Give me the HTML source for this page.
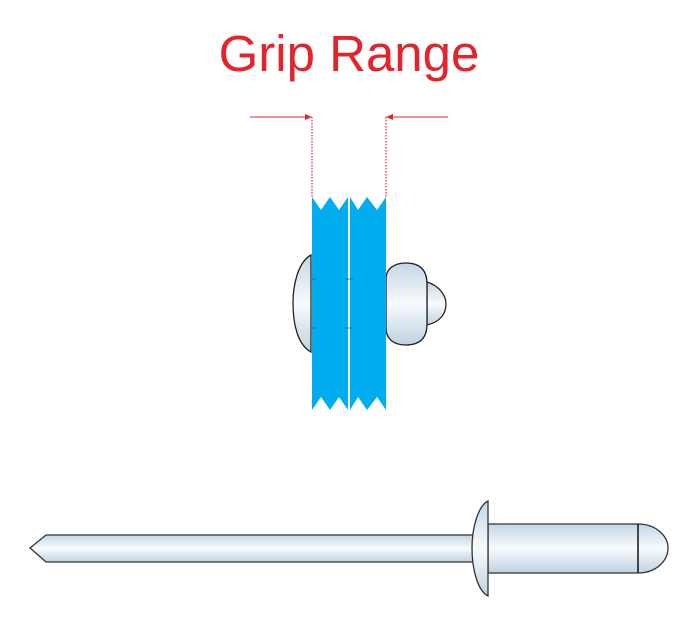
<!DOCTYPE html>
<html><head><style>
html,body{margin:0;padding:0;background:#fff;}
svg{display:block;}
</style></head><body>
<svg width="700" height="628" viewBox="0 0 700 628" xmlns="http://www.w3.org/2000/svg">
<defs>
<linearGradient id="g" x1="0" y1="0" x2="0" y2="1">
<stop offset="0" stop-color="#c4d6e4"/><stop offset="0.5" stop-color="#f8fbfd"/><stop offset="1" stop-color="#bfd2e1"/>
</linearGradient>
</defs>
<text x="349" y="71" text-anchor="middle" font-family="Liberation Sans, sans-serif" font-size="51" fill="#e3242b">Grip Range</text>
<line x1="250" y1="117" x2="308" y2="117" stroke="#e3242b" stroke-width="1"/>
<polygon points="312,117 305,114 305,120" fill="#e3242b"/>
<line x1="448" y1="117" x2="390" y2="117" stroke="#e3242b" stroke-width="1"/>
<polygon points="386,117 393,114 393,120" fill="#e3242b"/>
<line x1="312" y1="117" x2="312" y2="197" stroke="#e3242b" stroke-width="1.2" stroke-dasharray="1.5,1.5"/>
<line x1="386" y1="117" x2="386" y2="197" stroke="#e3242b" stroke-width="1.2" stroke-dasharray="1.5,1.5"/>
<path d="M311,255 C298,262 293,285 293,303 C293,325 298,345 311,352 Z" fill="url(#g)" stroke="#222" stroke-width="1.3"/>
<path d="M427,282 C440,286 446,296 446,304 C446,314 440,322 427,325 Z" fill="url(#g)" stroke="#222" stroke-width="1.3"/>
<path d="M386,279 C386,268 395,263 406,263 C420,263 427,270 427,284 L427,324 C427,338 420,345 406,345 C395,345 386,340 386,328 Z" fill="url(#g)" stroke="#222" stroke-width="1.3"/>
<polygon points="312,197 321,210 330,197 339,210 348,197 348,410 339,397 330,410 321,397 312,410" fill="#00adef"/>
<polygon points="350,197 358,210 367,197 377,210 386,197 386,410 377,397 367,410 358,397 350,410" fill="#00adef"/>
<g stroke="#1a5a80" stroke-width="0.8">
<line x1="312" y1="279" x2="316" y2="279"/><line x1="345" y1="279" x2="353" y2="279"/>
<line x1="312" y1="328" x2="316" y2="328"/><line x1="345" y1="328" x2="353" y2="328"/>
</g>
<polygon points="30,548 46,535 474,535 474,562 46,562" fill="url(#g)" stroke="#333" stroke-width="1.3"/>
<path d="M488,524 L638,524 C656,524 668,536 668,548 C668,561 656,573 638,573 L488,573 Z" fill="url(#g)" stroke="#333" stroke-width="1.3"/>
<path d="M488,501 C478,506 472,528 472,548 C472,570 478,591 488,596 Z" fill="url(#g)" stroke="#333" stroke-width="1.3"/>
<line x1="638" y1="524" x2="638" y2="573" stroke="#111" stroke-width="1.5"/>
</svg>
</body></html>
